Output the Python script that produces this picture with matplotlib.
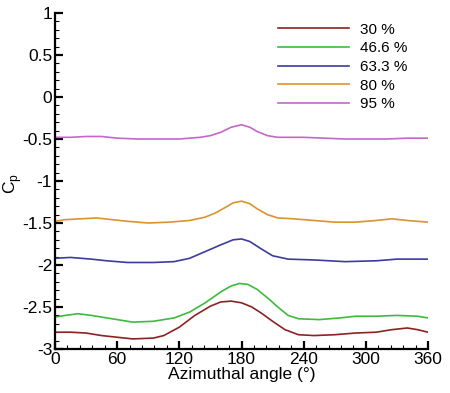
import matplotlib
matplotlib.use("Agg")
import matplotlib.pyplot as plt
from matplotlib.ticker import MultipleLocator, FuncFormatter

plt.rcParams['font.family'] = ['Liberation Sans', 'DejaVu Sans']

labels = ["30 %", "46.6 %", "63.3 %", "80 %", "95 %"]
colors = ["#8B2323", "#3DBB3D", "#3C3C9E", "#DA932F", "#C466CC"]

x30 = [0, 15, 30, 45, 60, 75, 95, 105, 120, 135, 150, 160, 170, 180, 190, 200, 210, 222, 235, 250, 270, 290, 310, 325, 340, 350, 360]
y30 = [-2.80, -2.80, -2.81, -2.84, -2.86, -2.88, -2.87, -2.84, -2.74, -2.60, -2.49, -2.44, -2.43, -2.45, -2.50, -2.58, -2.67, -2.77, -2.83, -2.84, -2.83, -2.81, -2.80, -2.77, -2.75, -2.77, -2.80]

x46 = [0, 10, 22, 35, 55, 75, 95, 115, 130, 145, 160, 170, 178, 186, 195, 205, 215, 225, 235, 255, 275, 290, 310, 330, 350, 360]
y46 = [-2.62, -2.60, -2.58, -2.60, -2.64, -2.68, -2.67, -2.63, -2.56, -2.45, -2.32, -2.25, -2.22, -2.23, -2.29, -2.39, -2.50, -2.60, -2.64, -2.65, -2.63, -2.61, -2.61, -2.60, -2.61, -2.63]

x63 = [0, 15, 35, 50, 70, 95, 115, 130, 145, 160, 172, 180, 188, 198, 210, 225, 250, 280, 310, 330, 345, 360]
y63 = [-1.92, -1.91, -1.93, -1.95, -1.97, -1.97, -1.96, -1.92, -1.84, -1.76, -1.70, -1.69, -1.72, -1.80, -1.89, -1.93, -1.94, -1.96, -1.95, -1.93, -1.93, -1.93]

x80 = [0, 10, 25, 40, 55, 70, 90, 110, 130, 145, 155, 165, 172, 180, 188, 195, 205, 215, 230, 250, 270, 290, 310, 325, 340, 360]
y80 = [-1.48, -1.46, -1.45, -1.44, -1.46, -1.48, -1.50, -1.49, -1.47, -1.43, -1.38, -1.31, -1.26, -1.24, -1.27, -1.33, -1.40, -1.44, -1.45, -1.47, -1.49, -1.49, -1.47, -1.45, -1.47, -1.49]

x95 = [0, 15, 30, 45, 60, 80, 100, 120, 140, 150, 160, 170, 180, 188, 195, 205, 215, 240, 260, 280, 300, 320, 340, 360]
y95 = [-0.48, -0.48, -0.47, -0.47, -0.49, -0.50, -0.50, -0.50, -0.48, -0.46, -0.42, -0.36, -0.33, -0.36, -0.41, -0.46, -0.48, -0.48, -0.49, -0.50, -0.50, -0.50, -0.49, -0.49]

xs = [x30, x46, x63, x80, x95]
ys = [y30, y46, y63, y80, y95]

fig = plt.figure(figsize=(4.5, 3.93), dpi=100)
ax = fig.add_axes([55/450, 44/393, (428-55)/450, (349-13)/393])

for x, y, c, l in zip(xs, ys, colors, labels):
    ax.plot(x, y, color=c, lw=1.2, label=l)

ax.set_xlim(0, 360)
ax.set_ylim(-3, 1)
ax.xaxis.set_major_locator(MultipleLocator(60))
ax.xaxis.set_minor_locator(MultipleLocator(12))
ax.yaxis.set_major_locator(MultipleLocator(0.5))
ax.yaxis.set_minor_locator(MultipleLocator(0.1))
ax.yaxis.set_major_formatter(FuncFormatter(lambda v, p: ("%g" % v)))

for s in ["top", "right"]:
    ax.spines[s].set_visible(False)
for s in ["left", "bottom"]:
    ax.spines[s].set_linewidth(1.6)
ax.tick_params(which="major", direction="in", length=6, width=1.6, labelsize=12.5, pad=2)
ax.tick_params(which="minor", direction="in", length=3, width=0.8)

ax.set_xlabel("Azimuthal angle (°)", fontsize=12.5, labelpad=0)
ax.set_ylabel("C$_\\mathregular{p}$", fontsize=12.5)
ax.yaxis.set_label_coords(-0.084, 0.494)

leg = ax.legend(loc="upper left", bbox_to_anchor=(0.582, 0.989), frameon=False,
                fontsize=11, handlelength=4.65, handletextpad=0.72, labelspacing=0.30,
                borderaxespad=0)

fig.savefig("out.png", dpi=100)
